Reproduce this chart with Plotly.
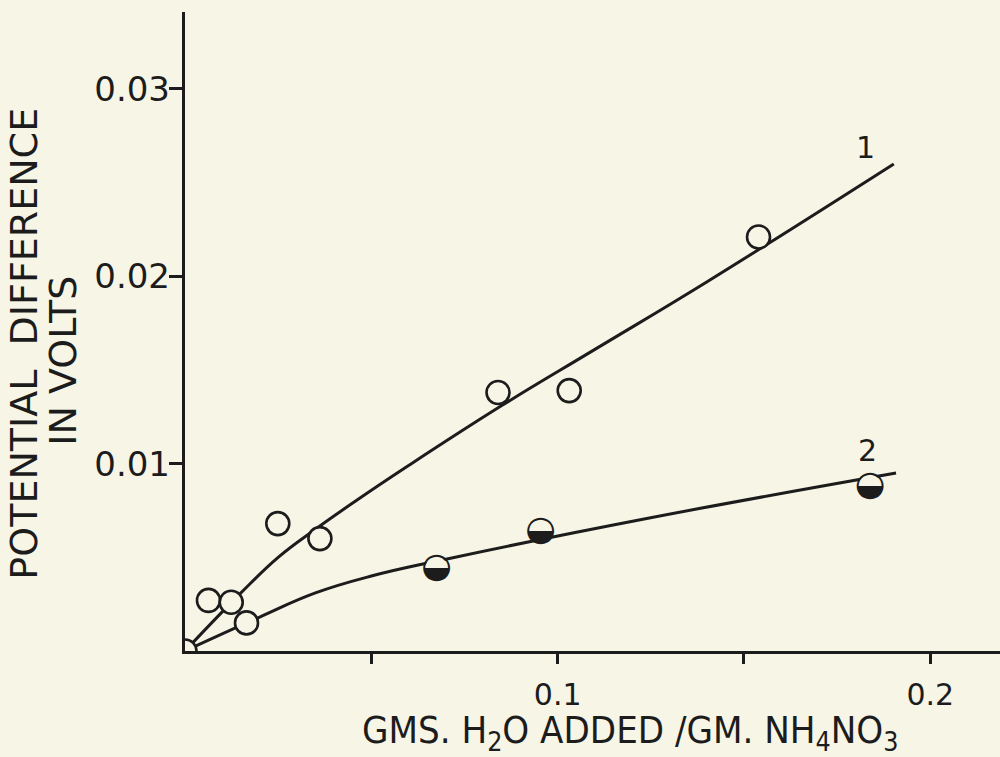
import plotly.graph_objects as go

# ---------------- data ----------------
# Series 1: open circles
s1_x = [0.0, 0.0063, 0.0124, 0.0165, 0.0249, 0.0362, 0.0840, 0.1031, 0.1539]
s1_y = [0.0, 0.0027, 0.0026, 0.0015, 0.0068, 0.0060, 0.0138, 0.0139, 0.0221]
# Series 2: half-filled circles
s2_x = [0.0675, 0.0954, 0.1838]
s2_y = [0.0044, 0.0064, 0.0088]
# Drawn curves
c1_x = [0.0, 0.0150, 0.0250, 0.0350, 0.0450, 0.0600, 0.0850, 0.1100, 0.1400, 0.1902]
c1_y = [0.0, 0.0031, 0.0050, 0.0065, 0.0079, 0.0099, 0.0131, 0.0161, 0.0197, 0.0260]
c2_x = [0.0, 0.0199, 0.0350, 0.0500, 0.0700, 0.1246, 0.1908]
c2_y = [0.0, 0.0018, 0.0031, 0.0040, 0.0049, 0.0071, 0.0095]
# Curve labels
curve_labels = ["1", "2"]
label_x = [0.1827, 0.1831]
label_y = [0.0269, 0.0107]
# Axis ticks
x_tickvals = [0.05, 0.1, 0.15, 0.2]
x_ticktext = ["", "0.1", "", "0.2"]
y_tickvals = [0.01, 0.02, 0.03]
y_ticktext = ["0.01", "0.02", "0.03"]

BG = "#f7f5e6"
INK = "#1c1c1c"
FONT = "DejaVu Sans"
Y_RANGE = [0, 0.03411]

fig = go.Figure()
for cx, cy in ((c1_x, c1_y), (c2_x, c2_y)):
    fig.add_trace(go.Scatter(x=cx, y=cy, mode="lines",
                             line=dict(color=INK, width=3, shape="spline", smoothing=1.2),
                             hoverinfo="skip"))

# open circles
fig.add_trace(go.Scatter(x=s1_x, y=s1_y, mode="markers",
                         marker=dict(symbol="circle", size=23, color=BG,
                                     line=dict(color=INK, width=2.6))))
# half-filled circles: background disc + glyph
fig.add_trace(go.Scatter(x=s2_x, y=s2_y, mode="markers",
                         marker=dict(symbol="circle", size=23, color=BG,
                                     line=dict(width=0))))
fig.add_trace(go.Scatter(x=s2_x, y=s2_y, mode="text",
                         text=["\u25D2"] * len(s2_x),
                         textposition="middle center",
                         textfont=dict(family=FONT, size=35, color=INK)))

# empty trace so the label-carrying overlay axis is drawn
fig.add_trace(go.Scatter(x=[None], y=[None], yaxis="y2", mode="markers",
                         hoverinfo="skip", showlegend=False))

for t, lx, ly in zip(curve_labels, label_x, label_y):
    fig.add_annotation(x=lx, y=ly, text=t, showarrow=False,
                       font=dict(family=FONT, size=30, color=INK),
                       xanchor="center", yanchor="middle")

# axis titles as annotations
fig.add_annotation(xref="paper", yref="paper", x=0.546, y=-0.127,
                   text="GMS. H<sub>2</sub>O ADDED /GM. NH<sub>4</sub>NO<sub>3</sub>",
                   showarrow=False, xanchor="center", yanchor="middle",
                   font=dict(family="DejaVu Sans Condensed", size=38, color=INK))
fig.add_annotation(xref="paper", yref="paper", x=-0.1980, y=0.4804,
                   text="POTENTIAL  DIFFERENCE", textangle=-90,
                   showarrow=False, xanchor="center", yanchor="middle",
                   font=dict(family=FONT, size=38, color=INK))
fig.add_annotation(xref="paper", yref="paper", x=-0.1500, y=0.4538,
                   text="IN VOLTS", textangle=-90,
                   showarrow=False, xanchor="center", yanchor="middle",
                   font=dict(family=FONT, size=38, color=INK))

fig.update_layout(
    width=1000, height=757,
    margin=dict(l=185, r=0, t=12, b=106),
    paper_bgcolor=BG, plot_bgcolor=BG,
    showlegend=False,
    xaxis=dict(range=[0, 0.2187], showline=True, linecolor=INK, linewidth=3,
               ticks="outside", ticklen=10, tickwidth=3, tickcolor=INK,
               tickvals=x_tickvals, ticktext=x_ticktext,
               tickfont=dict(family=FONT, size=30, color=INK),
               ticklabelstandoff=5,
               showgrid=False, zeroline=False),
    # y axis: line and tick marks
    yaxis=dict(range=Y_RANGE, showline=True, linecolor=INK, linewidth=3,
               ticks="outside", ticklen=13, tickwidth=3, tickcolor=INK,
               tickvals=y_tickvals, showticklabels=False,
               showgrid=False, zeroline=False),
    # overlay y axis carrying the tick labels, close to the ticks
    yaxis2=dict(range=Y_RANGE, overlaying="y", side="left", anchor="free",
                position=0, showline=False, ticks="",
                tickvals=y_tickvals, ticktext=y_ticktext,
                tickfont=dict(family=FONT, size=34, color=INK),
                ticklabelstandoff=15,
                showgrid=False, zeroline=False),
)

fig.write_html("out.html", config={"displayModeBar": False},
               post_script="document.body.style.margin='0';"
                           "document.body.style.background='" + BG + "';")
